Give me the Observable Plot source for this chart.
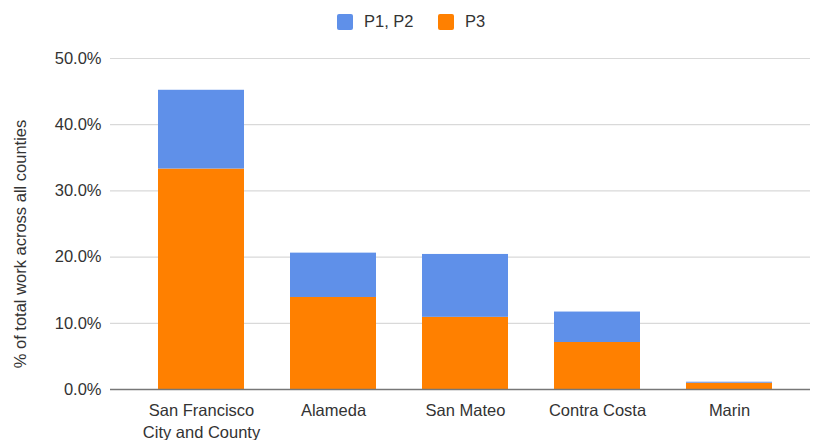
<!DOCTYPE html>
<html>
<head>
<meta charset="utf-8">
<script src="https://cdn.jsdelivr.net/npm/d3@7"></script>
<script src="https://cdn.jsdelivr.net/npm/@observablehq/plot@0.6"></script>
<style>
  html, body { margin: 0; padding: 0; background: #fff; }
  body { width: 813px; height: 440px; overflow: hidden; font-family: "Liberation Sans", Arial, sans-serif; }
  #legend { height: 40px; position: relative; }
  .item { position: absolute; top: 12px; display: flex; align-items: center; font-size: 16.5px; color: #333; }
  .sw { width: 16px; height: 16px; border-radius: 2px; margin-right: 11px; }
</style>
</head>
<body>
<div id="legend"></div>
<div id="chart"></div>
<script>
const counties = ["San Francisco City and County", "Alameda", "San Mateo", "Contra Costa", "Marin"];
const tickLabels = ["San Francisco\nCity and County", "Alameda", "San Mateo", "Contra Costa", "Marin"];
const seriesNames = ["P3", "P1, P2"];
const p3Values = [33.3, 13.9, 10.9, 7.1, 0.95];
const p12Values = [11.9, 6.7, 9.5, 4.6, 0.15];
const yTicks = [0, 10, 20, 30, 40, 50];
const legendNames = ["P1, P2", "P3"];
const colors = {"P1, P2": "#5f90e9", "P3": "#ff8000"};

const rows = [];
counties.forEach((c, i) => {
  rows.push({county: c, series: "P3", value: p3Values[i]});
  rows.push({county: c, series: "P1, P2", value: p12Values[i]});
});

// legend
const legend = document.getElementById("legend");
const legendX = [337, 438];
legendNames.forEach((n, i) => {
  const d = document.createElement("div");
  d.className = "item";
  d.style.left = legendX[i] + "px";
  d.innerHTML = `<div class="sw" style="background:${colors[n]}"></div><span>${n}</span>`;
  legend.appendChild(d);
});

const chart = Plot.plot({
  width: 813,
  height: 400,
  marginTop: 18,
  marginBottom: 51,
  marginLeft: 110,
  marginRight: 3,
  style: {fontFamily: "'Liberation Sans', Arial, sans-serif", fontSize: "16.5px", color: "#333", background: "#fff"},
  x: {domain: counties, range: [134.1, 796.6], paddingInner: 0.35, paddingOuter: 0.175},
  y: {domain: [0, 50]},
  color: {domain: legendNames, range: legendNames.map(n => colors[n])},
  marks: [
    Plot.ruleY(yTicks.filter(t => t > 0), {stroke: "#d9d9d9", strokeWidth: 1.2}),
    Plot.barY(rows, Plot.stackY({order: seriesNames, x: "county", y: "value", fill: "series"})),
    Plot.ruleY([0], {stroke: "#777", strokeWidth: 1.6}),
    Plot.axisY({ticks: yTicks, tickFormat: d => d.toFixed(1) + "%", tickSize: 0, tickPadding: 9, label: null, fill: "#333"}),
    Plot.axisX({tickSize: 0, tickPadding: 11, label: null, lineHeight: 1.33, fill: "#333",
      tickFormat: d => tickLabels[counties.indexOf(d)]}),
    Plot.text(["% of total work across all counties"], {frameAnchor: "left", textAnchor: "middle", rotate: -90, dx: -90, dy: 20, fill: "#333", fontSize: 16.5})
  ]
});
document.getElementById("chart").appendChild(chart);
</script>
</body>
</html>
